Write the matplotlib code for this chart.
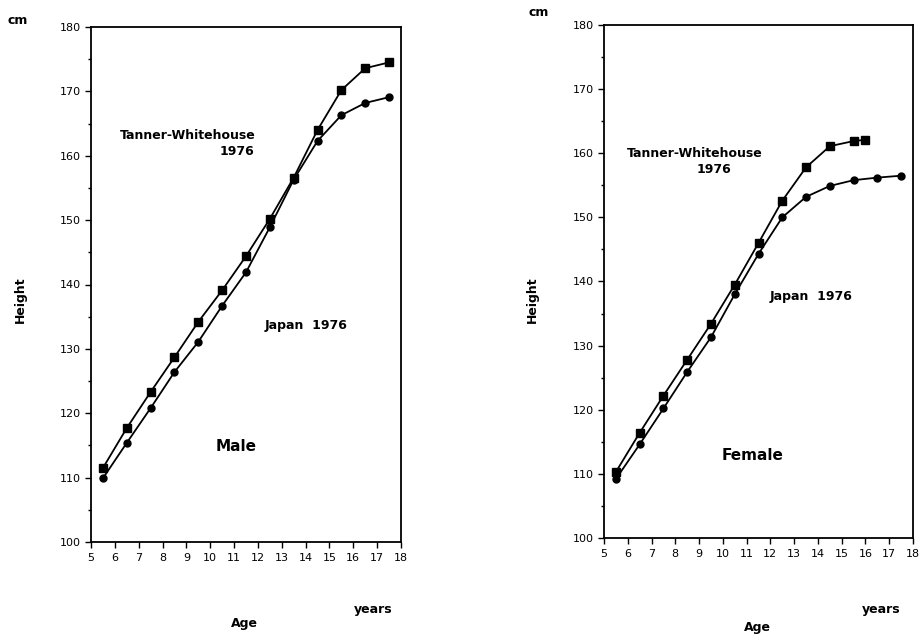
import matplotlib
matplotlib.use("Agg")
import matplotlib.pyplot as plt
from matplotlib.ticker import MultipleLocator

plt.rcParams['font.family'] = ['DejaVu Sans']

# ---- data ----
male_age = [5.5, 6.5, 7.5, 8.5, 9.5, 10.5, 11.5, 12.5, 13.5, 14.5, 15.5, 16.5, 17.5]
male_tw = [111.5, 117.7, 123.3, 128.7, 134.2, 139.1, 144.4, 150.2, 156.6, 164.0, 170.2, 173.6, 174.5]
male_jp = [109.9, 115.4, 120.8, 126.4, 131.1, 136.7, 141.9, 148.9, 156.3, 162.3, 166.3, 168.2, 169.1]

female_age_tw = [5.5, 6.5, 7.5, 8.5, 9.5, 10.5, 11.5, 12.5, 13.5, 14.5, 15.5, 16.0]
female_tw = [110.3, 116.4, 122.2, 127.8, 133.4, 139.5, 146.0, 152.6, 157.8, 161.1, 161.9, 162.1]
female_age_jp = [5.5, 6.5, 7.5, 8.5, 9.5, 10.5, 11.5, 12.5, 13.5, 14.5, 15.5, 16.5, 17.5]
female_jp = [109.2, 114.6, 120.2, 125.9, 131.3, 138.0, 144.3, 150.0, 153.2, 154.9, 155.8, 156.2, 156.5]

x_ticks = list(range(5, 19))
y_ticks = list(range(100, 181, 10))

W, H = 922, 637
fig = plt.figure(figsize=(W / 100, H / 100), dpi=100)

def px(x, y):
    return x / W, 1 - y / H

def make_axes(l, t, r, b):
    ax = fig.add_axes([l / W, 1 - b / H, (r - l) / W, (b - t) / H])
    ax.set_xlim(5, 18)
    ax.set_ylim(100, 180)
    ax.set_xticks(x_ticks)
    ax.set_yticks(y_ticks)
    ax.yaxis.set_minor_locator(MultipleLocator(5))
    ax.tick_params(axis='both', which='major', labelsize=8, direction='out',
                   length=4, width=1, colors='black', pad=3)
    ax.tick_params(axis='y', which='minor', direction='out', length=2.5, width=1)
    ax.tick_params(axis='x', pad=4)
    for s in ax.spines.values():
        s.set_linewidth(1.3)
        s.set_color('black')
    return ax

# Left panel (Male)
axL = make_axes(91, 27, 401, 542)
axL.plot(male_age, male_tw, color='black', lw=1.3, marker='s', ms=5.5)
axL.plot(male_age, male_jp, color='black', lw=1.3, marker='o', ms=5)
tb = dict(fontweight='bold', ha='center', va='center', color='black')
axL.text(9.05, 163.2, 'Tanner-Whitehouse', fontsize=9, **tb)
axL.text(11.1, 160.6, '1976', fontsize=9, **tb)
axL.text(14.0, 133.6, 'Japan  1976', fontsize=9, **tb)
axL.text(11.1, 114.9, 'Male', fontsize=11, **tb)

# Right panel (Female)
axR = make_axes(604, 25, 913, 538)
axR.plot(female_age_tw, female_tw, color='black', lw=1.3, marker='s', ms=5.5)
axR.plot(female_age_jp, female_jp, color='black', lw=1.3, marker='o', ms=5)
axR.text(8.8, 160.0, 'Tanner-Whitehouse', fontsize=9, **tb)
axR.text(9.63, 157.4, '1976', fontsize=9, **tb)
axR.text(13.7, 137.6, 'Japan  1976', fontsize=9, **tb)
axR.text(11.27, 112.9, 'Female', fontsize=11, **tb)

# outer labels
lab = dict(fontweight='bold', ha='center', va='center', color='black', fontsize=9)
fig.text(*px(18, 20), 'cm', **lab)
fig.text(*px(539, 13), 'cm', **lab)
fig.text(*px(20, 300), 'Height', rotation=90, **lab)
fig.text(*px(532, 300), 'Height', rotation=90, **lab)
fig.text(*px(373, 610), 'years', **lab)
fig.text(*px(881, 609), 'years', **lab)
fig.text(*px(244, 624), 'Age', **lab)
fig.text(*px(757, 628), 'Age', **lab)

fig.savefig('out.png', dpi=100, facecolor='white')
